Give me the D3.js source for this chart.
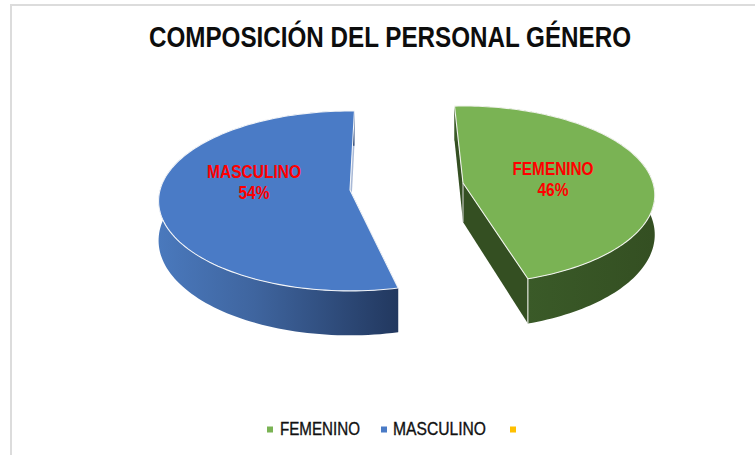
<!DOCTYPE html>
<html><head><meta charset="utf-8">
<script src="https://cdn.jsdelivr.net/npm/d3@7"></script>
<style>html,body{margin:0;padding:0;background:#fff;overflow:hidden}svg{display:block}</style>
</head><body><svg id="c" width="755" height="455"></svg>
<script>
const title = "COMPOSICIÓN DEL PERSONAL GÉNERO";
const categories = ["FEMENINO", "MASCULINO", ""];
const values = [46, 54, 0];
const colors = ["#7ab354", "#4a7bc6", "#ffc000"];

const svg = d3.select("#c");
const FONT = "'Liberation Sans',Arial,sans-serif";
const defs = svg.append("defs");
const g1 = defs.append("linearGradient").attr("id","blueRim").attr("gradientUnits","userSpaceOnUse")
  .attr("x1",158).attr("x2",398).attr("y1",0).attr("y2",0);
g1.append("stop").attr("offset","0").attr("stop-color","#4a79bd");
g1.append("stop").attr("offset","0.4").attr("stop-color","#3f659f");
g1.append("stop").attr("offset","1").attr("stop-color","#22385f");
const g2 = defs.append("linearGradient").attr("id","greenRim").attr("gradientUnits","userSpaceOnUse")
  .attr("x1",527).attr("x2",655).attr("y1",0).attr("y2",0);
g2.append("stop").attr("offset","0").attr("stop-color","#3a5a28");
g2.append("stop").attr("offset","1").attr("stop-color","#344f22");

// frame
svg.append("path").attr("d","M11,455V5H755").attr("fill","none").attr("stroke","#dcdcdc").attr("stroke-width",2);

// title
svg.append("text").attr("x",390).attr("y",47).attr("text-anchor","middle")
  .attr("font-family",FONT).attr("font-weight","bold").attr("font-size",29)
  .attr("textLength",482).attr("lengthAdjust","spacingAndGlyphs").attr("fill","#0d0d0d").text(title);

// pie angles
const arcs = d3.pie().sort(null).value(d=>d)
  .startAngle(-2.9*Math.PI/180).endAngle(357.1*Math.PI/180)(values);

// perspective projection of the tilted disc
const R = 190, H = 39;
function proj(c, a, r, dz){
  const u = r*Math.sin(a), v = r*Math.cos(a), w = 1 + c.p*v;
  return [c.x + R*u/w, c.y - c.ry*v/w + dz*H/w];
}
const line = d3.line();
function arcPts(c, a0, a1, dz){
  return d3.range(0,121).map(i => proj(c, a0+(a1-a0)*i/120, 1, dz));
}
function drawSlice(c, a0, a1, rimFill, wallFill, wall2Fill){
  const g = svg.append("g");
  const apex = proj(c,0,0,0), apexB = proj(c,0,0,1);
  const p0 = proj(c,a0,1,0), p0B = proj(c,a0,1,1), p1 = proj(c,a1,1,0), p1B = proj(c,a1,1,1);
  g.append("path").attr("d",line([p0,apex,apexB,p0B])+"Z").attr("fill",wallFill);
  g.append("path").attr("d",line([p1,apex,apexB,p1B])+"Z").attr("fill",wall2Fill);
  const top = arcPts(c,a0,a1,0), bot = arcPts(c,a0,a1,1).reverse();
  g.append("path").attr("d",line(top.concat(bot))+"Z").attr("fill",rimFill);
  return {g, top, apex, p0, p1, apexB, p0B, p1B};
}
function drawTop(s, fill, edge){
  s.g.append("path").attr("d",line([s.apex].concat(s.top))+"Z").attr("fill",fill)
    .attr("stroke",edge).attr("stroke-width",1.1).attr("stroke-linejoin","round");
}

const fem = arcs[0];
const cB = {x:350,y:190,ry:88.6,p:0.122}, cG = {x:463,y:183,ry:87.4,p:0.135};
const masStart = (360+1.5-values[1]*3.6)*Math.PI/180, masEnd = (360+1.5)*Math.PI/180;
const sB = drawSlice(cB, masStart, masEnd, "url(#blueRim)", "#27406c", "#a9b9d6");
drawTop(sB, colors[1], "#f3f5f8");
const sG = drawSlice(cG, fem.startAngle, fem.endAngle, "url(#greenRim)", "#344f22", "#344f22");
sG.g.append("path").attr("d",line([sG.apex,sG.apexB])).attr("stroke","#d9d9d9").attr("stroke-width",1);
sG.g.append("path").attr("d",line([sG.p1,sG.p1B])).attr("stroke","#dfe3da").attr("stroke-width",1.2);
drawTop(sG, colors[0], "#f0f3ec");

// data labels
function fit(sel,len){ return sel.attr("textLength",len).attr("lengthAdjust","spacingAndGlyphs"); }
function label(x,y,a,b,wa,wb){
  const t = svg.append("g").attr("text-anchor","middle").attr("font-family",FONT)
    .attr("font-weight","bold").attr("font-size",19).attr("fill","#ff0000");
  fit(t.append("text").attr("x",x).attr("y",y).text(a),wa);
  fit(t.append("text").attr("x",x).attr("y",y+21).text(b),wb);
}
label(254,178,categories[1],values[1]+"%",94,31);
label(553,175,categories[0],values[0]+"%",81,31);

// legend
const legendX = [267,381,510], textX = [280,393], textW = [80,93];
categories.forEach((c,i)=>{
  svg.append("rect").attr("x",legendX[i]).attr("y",426.5).attr("width",6).attr("height",6).attr("fill",colors[i]);
  if(c) fit(svg.append("text").attr("x",textX[i]).attr("y",435).attr("font-family",FONT)
    .attr("font-size",18).attr("fill","#111").attr("stroke","#111").attr("stroke-width",0.35).text(c),textW[i]);
});
</script></body></html>
